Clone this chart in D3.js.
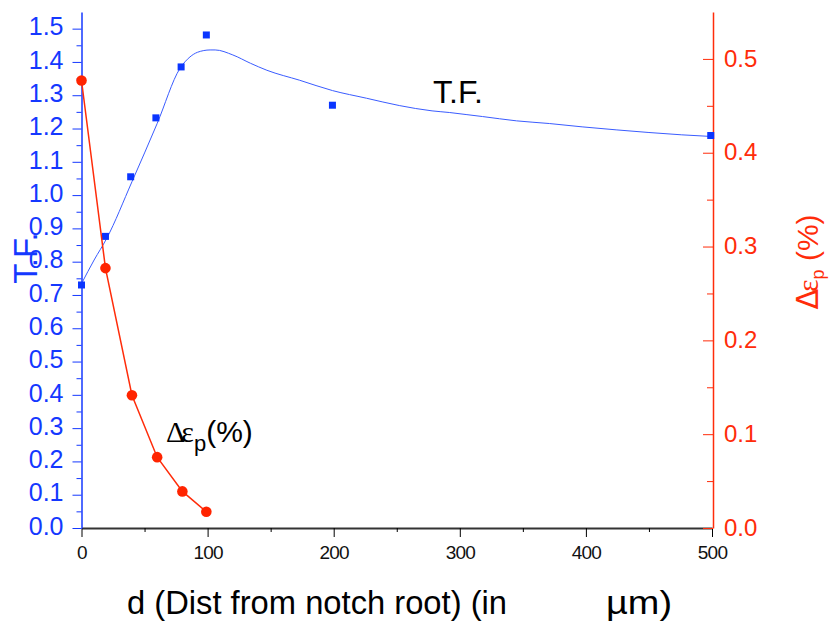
<!DOCTYPE html>
<html lang="en">
<head>
<meta charset="UTF-8">
<title>T.F. and plastic strain vs distance from notch root</title>
<style>
    body {
        margin: 0;
        padding: 0;
        background: #fff;
    }
    svg {
        display: block;
        font-family: "Liberation Sans", Arial, sans-serif;
    }
</style>
</head>
<body>
<script src="https://d3js.org/d3.v7.min.js"></script>
<script>
    const width = 829
    const height = 625

    // T.F. measured points
    const tfDist = [0, 19, 39, 59, 79, 99, 199, 499]
    const tfValues = [0.73, 0.876, 1.055, 1.232, 1.385, 1.481, 1.27, 1.179]

    // fitted T.F. curve
    const fitDist = [0, 10, 20, 40, 60, 78, 86, 92, 102, 106, 120, 134, 147, 173, 199, 226, 252, 278, 292, 305, 318, 345, 371, 397, 424, 450, 476, 500]
    const fitValues = [0.734, 0.805, 0.87, 1.04, 1.215, 1.38, 1.415, 1.429, 1.436, 1.436, 1.421, 1.396, 1.375, 1.345, 1.314, 1.291, 1.269, 1.253, 1.248, 1.242, 1.236, 1.223, 1.215, 1.205, 1.196, 1.188, 1.181, 1.176]

    // plastic strain range (%)
    const epsDist = [0, 19, 40, 60, 80, 99]
    const epsValues = [0.477, 0.277, 0.1415, 0.0755, 0.039, 0.0173]

    const xTicks = [0, 100, 200, 300, 400, 500]
    const tfTicks = [0.0, 0.1, 0.2, 0.3, 0.4, 0.5, 0.6, 0.7, 0.8, 0.9, 1.0, 1.1, 1.2, 1.3, 1.4, 1.5]
    const epsTicks = [0.0, 0.1, 0.2, 0.3, 0.4, 0.5]

    const blue = '#1438ff'
    const red = '#ff2c0a'

    const x = d3.scaleLinear([0, 500], [81.5, 712])
    const yL = d3.scaleLinear([0, 1.55], [528, 12])
    const yR = d3.scaleLinear([0, 0.55], [528, 12])

    const svg = d3.select('body')
        .append('svg')
        .attr('width', width)
        .attr('height', height)

    // x axis
    const gx = svg.append('g')
        .attr('transform', `translate(0,${yL(0)})`)
        .call(d3.axisBottom(x).tickValues(xTicks).tickSize(9).tickPadding(9).tickSizeOuter(0))
    gx.select('.domain').attr('stroke', '#333').attr('stroke-width', 2)
    gx.selectAll('text')
        .attr('font-size', 19)
        .attr('font-family', '"Liberation Sans", Arial, sans-serif')
        .attr('letter-spacing', '-0.8px')
        .attr('fill', '#111')
    svg.append('g')
        .attr('transform', `translate(0,${yL(0)})`)
        .call(d3.axisBottom(x).tickValues(d3.range(50, 500, 100)).tickSize(4).tickFormat(''))
        .call(g => g.select('.domain').remove())

    // left axis
    const gl = svg.append('g')
        .attr('transform', `translate(${x(0)},0)`)
        .call(d3.axisLeft(yL).tickValues(tfTicks).tickFormat(d3.format('.1f')).tickSize(9).tickPadding(9).tickSizeOuter(0))
    gl.select('.domain').attr('stroke', blue).attr('stroke-width', 1.5)
    gl.selectAll('line').attr('stroke', blue)
    gl.selectAll('text')
        .attr('font-size', 25)
        .attr('font-family', '"Liberation Sans", Arial, sans-serif')
        .attr('dy', '0.25em')
        .attr('fill', blue)
    svg.append('g')
        .attr('transform', `translate(${x(0)},0)`)
        .call(d3.axisLeft(yL).tickValues(d3.range(0.05, 1.55, 0.1)).tickSize(5).tickFormat(''))
        .call(g => g.select('.domain').remove())
        .call(g => g.selectAll('line').attr('stroke', blue))

    // right axis, ticks pointing into the plot
    const gr = svg.append('g')
        .attr('transform', `translate(713,0)`)
        .call(d3.axisRight(yR).tickValues(epsTicks).tickFormat(d3.format('.1f')).tickSize(-10).tickPadding(11).tickSizeOuter(0))
    gr.select('.domain').attr('stroke', red).attr('stroke-width', 1.5)
    gr.selectAll('line').attr('stroke', red)
    gr.selectAll('text')
        .attr('font-size', 24)
        .attr('font-family', '"Liberation Sans", Arial, sans-serif')
        .attr('dy', '0.3em')
        .attr('fill', red)
    svg.append('g')
        .attr('transform', `translate(713,0)`)
        .call(d3.axisRight(yR).tickValues(d3.range(0.05, 0.55, 0.1)).tickSize(-6).tickFormat(''))
        .call(g => g.select('.domain').remove())
        .call(g => g.selectAll('line').attr('stroke', red))

    // fitted T.F. curve
    const fit = fitDist.map((d, i) => [d, fitValues[i]])
    const fitLine = d3.line()
        .x(d => x(d[0]))
        .y(d => yL(d[1]))
        .curve(d3.curveMonotoneX)
    svg.append('path')
        .datum(fit)
        .attr('d', fitLine)
        .attr('fill', 'none')
        .attr('stroke', '#3a5cff')
        .attr('stroke-width', 1)

    // T.F. squares
    svg.append('g')
        .selectAll('rect')
        .data(tfDist)
        .join('rect')
        .attr('x', d => x(d) - 3.5)
        .attr('y', (d, i) => yL(tfValues[i]) - 3.5)
        .attr('width', 7)
        .attr('height', 7)
        .attr('fill', '#0a35ff')

    // strain line + circles
    const eps = epsDist.map((d, i) => [d, epsValues[i]])
    svg.append('path')
        .datum(eps)
        .attr('d', d3.line().x(d => x(d[0])).y(d => yR(d[1])))
        .attr('fill', 'none')
        .attr('stroke', red)
        .attr('stroke-width', 1.5)
    svg.append('g')
        .selectAll('circle')
        .data(eps)
        .join('circle')
        .attr('cx', d => x(d[0]))
        .attr('cy', d => yR(d[1]))
        .attr('r', 5.3)
        .attr('fill', '#ff2400')

    // axis titles
    svg.append('text')
        .attr('transform', 'translate(37,258) rotate(-90)')
        .attr('text-anchor', 'middle')
        .attr('font-size', 33)
        .attr('fill', blue)
        .text('T.F.')

    const rt = svg.append('text')
        .attr('transform', 'translate(818,262) rotate(-90)')
        .attr('text-anchor', 'middle')
        .attr('font-size', 30)
        .attr('fill', red)
    rt.append('tspan').attr('font-family', '"DejaVu Sans", sans-serif').text('Δ')
    rt.append('tspan').attr('font-family', '"Liberation Serif", serif').attr('dx', -3).text('ε')
    rt.append('tspan').attr('font-size', 18).attr('dy', 6).text('p')
    rt.append('tspan').attr('dy', -6).text(' (%)')

    svg.append('text')
        .attr('x', 127)
        .attr('y', 614)
        .attr('font-size', 34)
        .attr('textLength', 380)
        .attr('lengthAdjust', 'spacingAndGlyphs')
        .attr('fill', '#000')
        .text('d (Dist from notch root) (in')
    svg.append('text')
        .attr('x', 606)
        .attr('y', 614)
        .attr('font-size', 34)
        .attr('textLength', 66)
        .attr('lengthAdjust', 'spacingAndGlyphs')
        .attr('fill', '#000')
        .text('µm)')

    // in-plot labels
    svg.append('text')
        .attr('x', 433)
        .attr('y', 103)
        .attr('font-size', 32)
        .attr('fill', '#000')
        .text('T.F.')

    const el = svg.append('text')
        .attr('x', 166)
        .attr('y', 442)
        .attr('font-size', 30)
        .attr('fill', '#000')
    el.append('tspan').attr('font-family', '"Liberation Serif", serif').text('Δ')
    el.append('tspan').attr('font-family', '"Liberation Serif", serif').attr('dx', -4).text('ε')
    el.append('tspan').attr('font-size', 22).attr('dy', 9).text('p')
    el.append('tspan').attr('dy', -9).text('(%)')
</script>
</body>
</html>
